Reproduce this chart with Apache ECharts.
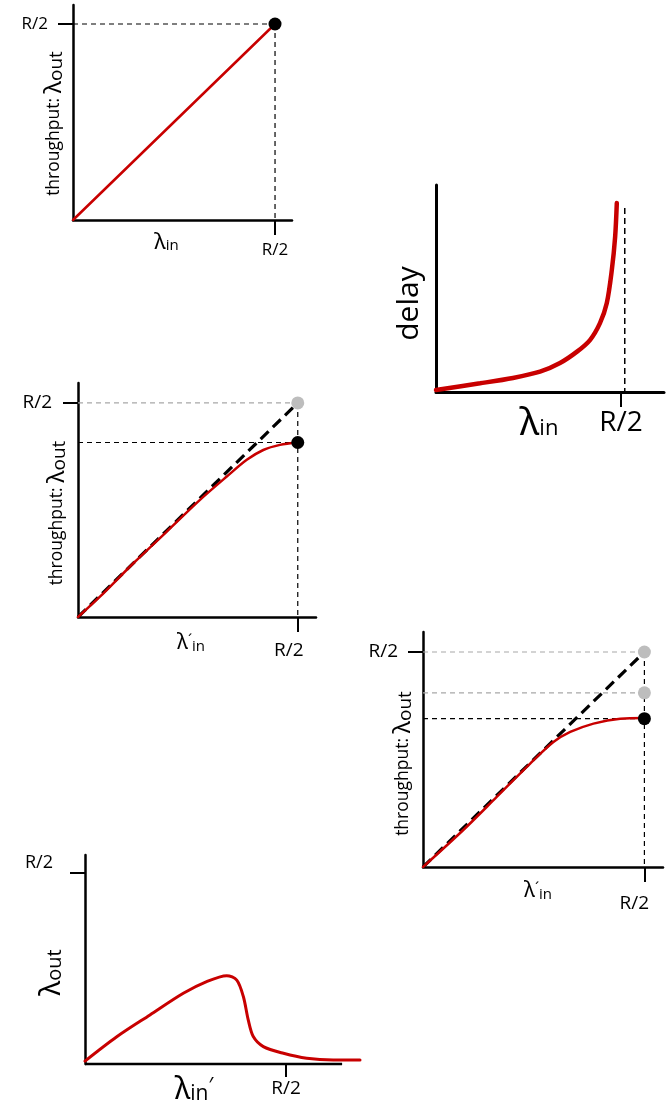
<!DOCTYPE html>
<html>
<head>
<meta charset="utf-8">
<script src="https://cdn.jsdelivr.net/npm/echarts@6/dist/echarts.min.js"></script>
<style>
  html, body { margin: 0; padding: 0; background: #fff; }
  #main { width: 666px; height: 1106px; }
</style>
</head>
<body>
<div id="main"></div>
<script>
// all values in units of R/2 (R/2 = 1)
const rHalf = 1;
const tickLabel = 'R/2';

// chart 1: ideal throughput
const idealIn = [0, 1];
const idealOut = [0, 1];

// chart 2: delay vs offered load
const delayIn = [0, 0.238, 0.416, 0.562, 0.670, 0.762, 0.832, 0.886, 0.923, 0.950, 0.968, 0.977];
const delayVal = [0.01, 0.042, 0.068, 0.098, 0.140, 0.195, 0.251, 0.333, 0.430, 0.589, 0.750, 0.913];
const delayAsymptote = 1.02;
const delayAsymptoteTop = 0.889;

// chart 3: retransmissions, one level
const retxIn = [0, 0.100, 0.252, 0.404, 0.555, 0.677, 0.768, 0.843, 0.919, 1];
const retxOut = [0, 0.095, 0.251, 0.399, 0.547, 0.656, 0.734, 0.780, 0.804, 0.815];
const retxLevel = 0.815;

// chart 4: retransmissions, two levels
const dupIn = [0, 0.182, 0.333, 0.484, 0.589, 0.665, 0.770, 0.891, 1];
const dupOut = [0, 0.172, 0.326, 0.481, 0.581, 0.628, 0.667, 0.690, 0.693];
const dupLevels = [1, 0.81];
const dupLevel = 0.69;

// chart 5: congestion collapse (curve runs past the end of the x axis line)
const collapseIn = [0, 0.158, 0.323, 0.489, 0.605, 0.705, 0.755, 0.788, 0.812, 0.837, 0.887, 0.987, 1.103, 1.235, 1.368];
const collapseOut = [0.015, 0.142, 0.256, 0.369, 0.430, 0.461, 0.438, 0.351, 0.230, 0.143, 0.091, 0.056, 0.030, 0.021, 0.021];
const collapseAxisEnd = 1.279;

const zip = (xs, ys) => xs.map((x, i) => [x, ys[i]]);

const FONT = '"Open Sans", "Noto Sans", sans-serif';
const LFONT = '"Noto Sans", "DejaVu Sans", sans-serif';
const RED = '#c80000';
const GRAY = '#bdbdbd';
const GRAYDASH = '#a8a8a8';

function rich(l, s, t, lift) {
  return {
    t: { fontSize: t, lineHeight: t, padding: [0, 0, lift, 0], fontFamily: FONT, color: '#000' },
    l: { fontSize: l, lineHeight: l, padding: [0, 0, lift, 0], fontFamily: LFONT, color: '#000' },
    s: { fontSize: s, lineHeight: s, fontFamily: FONT, color: '#000' },
    p: { fontSize: s, lineHeight: s, padding: [0, 0, lift + 6, 0], fontFamily: FONT, color: '#000' }
  };
}

function xAxis(grid, max, o) {
  return {
    gridIndex: grid, type: 'value', min: 0, max: max,
    axisLine: { show: !o.noLine, onZero: false, lineStyle: { color: '#000', width: o.lw || 2.5 } },
    splitLine: { show: false },
    axisTick: { show: true, customValues: [rHalf], length: o.tick || 15, lineStyle: { color: '#000', width: 2 } },
    axisLabel: {
      show: true, customValues: [rHalf], formatter: tickLabel, margin: o.margin,
      fontSize: o.fs, fontFamily: FONT, color: '#000', padding: o.labelPad || 0
    },
    name: o.name, nameLocation: 'middle', nameGap: o.gap, nameMoveOverlap: false,
    nameTextStyle: { padding: o.namePad || 0, rich: o.rich }
  };
}

function yAxis(grid, max, o) {
  return {
    gridIndex: grid, type: 'value', min: 0, max: max,
    axisLine: { show: true, onZero: false, lineStyle: { color: '#000', width: o.lw || 2.5 } },
    splitLine: { show: false },
    axisTick: { show: !o.noTick, customValues: [rHalf], length: 15, lineStyle: { color: '#000', width: 2 } },
    axisLabel: Object.assign({
      show: !o.noTick, customValues: [rHalf], formatter: tickLabel, margin: o.margin,
      fontSize: o.fs, fontFamily: FONT, color: '#000'
    }, o.labelExtra || {}),
    name: o.name, nameLocation: 'middle', nameRotate: 90, nameGap: o.gap, nameMoveOverlap: false,
    nameTextStyle: Object.assign({ padding: o.namePad || 0 }, o.nameStyle || { rich: o.rich })
  };
}

function curve(i, data, width, smooth) {
  return {
    type: 'line', xAxisIndex: i, yAxisIndex: i, data: data, showSymbol: false,
    smooth: smooth, clip: false, z: 4,
    lineStyle: { color: RED, width: width, cap: 'round' }
  };
}

function guide(i, data, color, width, dash) {
  return {
    type: 'line', xAxisIndex: i, yAxisIndex: i, data: data, showSymbol: false,
    clip: false, z: 3, silent: true,
    lineStyle: { color: color, width: width, type: dash }
  };
}

function dot(i, data, color) {
  return {
    type: 'scatter', xAxisIndex: i, yAxisIndex: i, data: data, symbolSize: 13,
    clip: false, z: 6, itemStyle: { color: color, opacity: 1 }
  };
}

const thrName = '{t|throughput: }{l|λ}{s|out}';
const thrRich = rich(24, 19, 17.5, 6);

function box(left, top, width, height) {
  return { left: left, top: top, width: width, height: height, containLabel: false, outerBoundsMode: 'none' };
}

const chart = echarts.init(document.getElementById('main'), null, { renderer: 'canvas' });

chart.setOption({
  animation: false,
  backgroundColor: '#fff',
  grid: [
    box(73, 5, 219, 215),
    box(436, 185, 228, 207),
    box(78, 383, 238, 234),
    box(423, 632, 240, 235),
    box(85, 855, 275, 209)
  ],
  xAxis: [
    xAxis(0, 1.084, { fs: 17, margin: 22, name: '{l|λ}{s|in}', gap: 15, namePad: [0, 32, 0, 0], rich: rich(22, 15, 15, 6) }),
    xAxis(1, 1.232, { fs: 28, margin: 17, lw: 3, name: '{l|λ}{s|in}', gap: 18, namePad: [0, 22, 0, 0], rich: rich(38, 22, 22, 9) }),
    xAxis(2, 1.083, { fs: 19, margin: 24, labelPad: [0, 18, 0, 0], name: '{l|λ}{p|´}{s|in}', gap: 19, namePad: [0, 12, 0, 0], rich: rich(21, 15, 15, 6) }),
    xAxis(3, 1.084, { fs: 19, margin: 27, labelPad: [0, 20, 0, 0], name: '{l|λ}{p|´}{s|in}', gap: 17, namePad: [0, 10, 0, 0], rich: rich(21, 15, 15, 6) }),
    xAxis(4, 1.368, { fs: 19, margin: 15, tick: 13, noLine: true, name: '{l|λ}{s|in}{p|′}', gap: 15, namePad: [0, 57, 0, 0], rich: rich(30, 21, 21, 8) })
  ],
  yAxis: [
    yAxis(0, 1.097, { fs: 17, margin: 25, name: thrName, gap: 4, namePad: [0, 22, 0, 0], rich: thrRich }),
    yAxis(1, 1, { noTick: true, lw: 3, name: 'delay', gap: 12, namePad: [0, 30, 0, 0],
      nameStyle: { fontSize: 30, fontFamily: FONT, color: '#000' } }),
    yAxis(2, 1.093, { fs: 19, margin: 26, name: thrName, gap: 6, namePad: [0, 26, 0, 0], rich: thrRich }),
    yAxis(3, 1.093, { fs: 19, margin: 25, name: thrName, gap: 5, namePad: [0, 28, 0, 0], rich: thrRich }),
    yAxis(4, 1.091, { fs: 18, margin: 32, labelExtra: { verticalAlign: 'bottom', lineHeight: 20 },
      name: '{l|λ}{s|out}', gap: 15, namePad: [0, 26, 0, 0], rich: rich(29, 20, 20, 7) })
  ],
  series: [
    // chart 1
    guide(0, [[0, rHalf], [rHalf, rHalf]], '#000', 1.2, [5, 4]),
    guide(0, [[rHalf, rHalf], [rHalf, 0]], '#000', 1.2, [5, 4]),
    curve(0, zip(idealIn, idealOut), 2.5, false),
    dot(0, [[rHalf, rHalf]], '#000'),

    // chart 2
    guide(1, [[delayAsymptote, delayAsymptoteTop], [delayAsymptote, 0]], '#000', 1.5, [6, 4]),
    curve(1, zip(delayIn, delayVal), 4.5, 0.3),

    // chart 3
    guide(2, [[0, rHalf], [rHalf, rHalf]], GRAYDASH, 1.2, [5, 4]),
    guide(2, [[0, retxLevel], [rHalf, retxLevel]], '#000', 1.2, [5, 4]),
    guide(2, [[rHalf, rHalf], [rHalf, 0]], '#000', 1.2, [5, 4]),
    guide(2, [[0, 0], [rHalf, rHalf]], '#000', 3.2, [11, 6]),
    curve(2, zip(retxIn, retxOut), 2.5, 0.3),
    dot(2, [[rHalf, rHalf]], GRAY),
    dot(2, [[rHalf, retxLevel]], '#000'),

    // chart 4
    guide(3, [[0, dupLevels[0]], [rHalf, dupLevels[0]]], GRAYDASH, 1.2, [5, 4]),
    guide(3, [[0, dupLevels[1]], [rHalf, dupLevels[1]]], GRAYDASH, 1.2, [5, 4]),
    guide(3, [[0, dupLevel], [rHalf, dupLevel]], '#000', 1.2, [5, 4]),
    guide(3, [[rHalf, rHalf], [rHalf, 0]], '#000', 1.2, [5, 4]),
    guide(3, [[0, 0], [rHalf, rHalf]], '#000', 3.2, [11, 6]),
    curve(3, zip(dupIn, dupOut), 2.5, 0.3),
    dot(3, dupLevels.map(v => [rHalf, v]), GRAY),
    dot(3, [[rHalf, dupLevel]], '#000'),

    // chart 5: x axis line stops short of the curve's end
    guide(4, [[0, 0], [collapseAxisEnd, 0]], '#000', 2.5, 'solid'),
    curve(4, zip(collapseIn, collapseOut), 3, 0.3)
  ]
});
</script>
</body>
</html>
